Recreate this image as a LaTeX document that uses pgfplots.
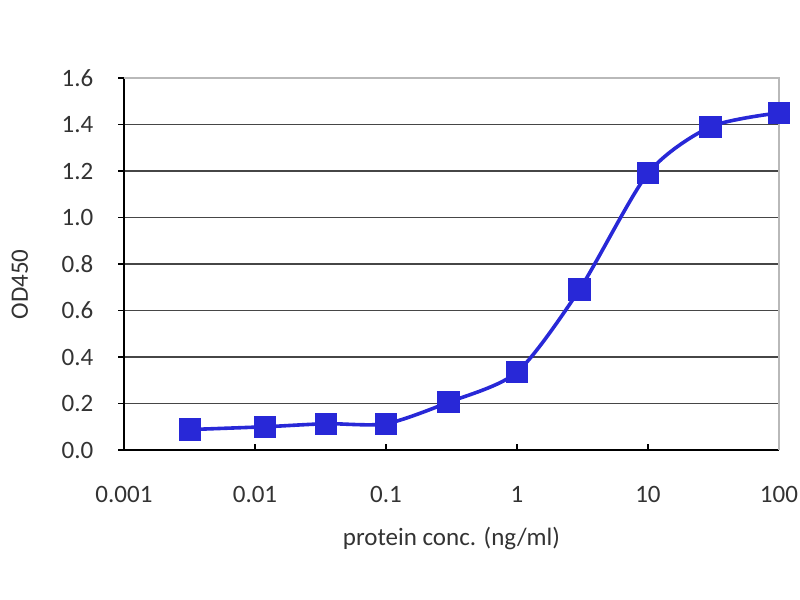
\documentclass[border=0pt]{standalone}
\usepackage{pgfplots}
\pgfplotsset{compat=1.18}
\usepackage{fontspec}
\setmainfont{Carlito}
\definecolor{serblue}{RGB}{40,40,215}
\definecolor{gridc}{RGB}{70,70,70}
\begin{document}
\fontsize{12.5}{15}\selectfont
\begin{tikzpicture}
\begin{axis}[
  scale only axis,
  width=327.5pt, height=186pt,
  xmode=log, xmin=0.001, xmax=100,
  ymin=0, ymax=1.6,
  ytick={0,0.2,...,1.6},
  yticklabels={0.0,0.2,0.4,0.6,0.8,1.0,1.2,1.4,1.6},
  xtick={0.001,0.01,0.1,1,10,100},
  xticklabels={0.001,0.01,0.1,1,10,100},
  minor xtick={},
  log basis x=10,
  axis x line*=bottom, axis y line*=left,
  axis line style={black, line width=0.8pt, -},
  ymajorgrids,
  major grid style={gridc, line width=0.9pt},
  y tick style={black, line width=0.8pt},
  x tick style={black, line width=0.6pt},
  ytick align=outside, xtick align=inside,
  major tick length=3pt,
  tick label style={text=black!80},
  /pgf/number format/assume math mode=true,
  yticklabel style={xshift=-8pt},
  xticklabel style={yshift=-14pt},
  xlabel={protein conc. (ng/ml)},
  ylabel={OD450},
  label style={text=black!80},
  xlabel style={at={(axis description cs:0.5,-0.238)}, anchor=center},
  ylabel style={at={(axis description cs:-0.159,0.445)}, anchor=center, rotate=0},
  clip=false,
]
\addplot[serblue, line width=1.8pt, smooth, tension=0.45,
  mark=square*, mark size=5.3pt, mark options={fill=serblue, draw=serblue, line width=0.5pt}]
  coordinates {
  (0.0032,0.088) (0.012,0.100) (0.035,0.113) (0.1,0.113) (0.3,0.205)
  (1,0.335) (3,0.69) (10,1.19) (30,1.39) (100,1.45)
  };
\draw[gray!55, line width=0.9pt] (rel axis cs:0,1) -- (rel axis cs:1,1) -- (rel axis cs:1,0);
\coordinate (bbsw) at ([shift={(-62pt,-75pt)}]rel axis cs:0,0);
\coordinate (bbne) at ([shift={(10.5pt,39pt)}]rel axis cs:1,1);
\end{axis}
\pgfresetboundingbox
\path (bbsw) rectangle (bbne);
\end{tikzpicture}
\end{document}
